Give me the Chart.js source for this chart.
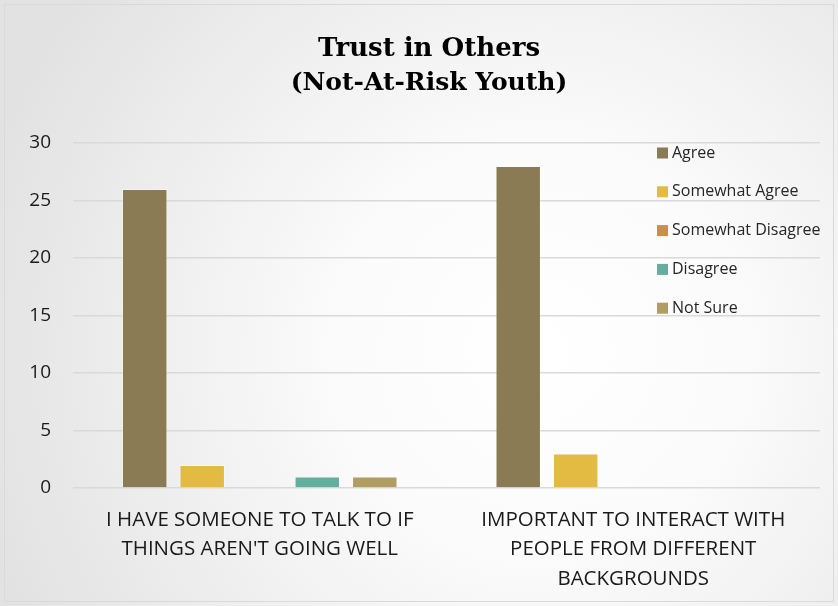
<!DOCTYPE html>
<html>
<head>
<meta charset="utf-8">
<title>Trust in Others</title>
<script src="https://cdn.jsdelivr.net/npm/chart.js@4.4.0/dist/chart.umd.min.js"></script>
<style>
  html, body { margin: 0; padding: 0; background: #fff; }
  #wrap { width: 838px; height: 606px; }
</style>
</head>
<body>
<div id="wrap"><canvas id="trustChart" width="838" height="606"></canvas></div>
<script>
const titleLines = ['Trust in Others', '(Not-At-Risk Youth)'];
const categories = [
    ['I HAVE SOMEONE TO TALK TO IF', "THINGS AREN'T GOING WELL"],
    ['IMPORTANT TO INTERACT WITH', 'PEOPLE FROM DIFFERENT', 'BACKGROUNDS']
];
const seriesNames = ['Agree', 'Somewhat Agree', 'Somewhat Disagree', 'Disagree', 'Not Sure'];
const agree = [26, 28];
const somewhatAgree = [2, 3];
const somewhatDisagree = [0, 0];
const disagree = [1, 0];
const notSure = [1, 0];
const yMax = 30;
const yStep = 5;

const seriesValues = [agree, somewhatAgree, somewhatDisagree, disagree, notSure];
const seriesColors = ['#8b7b55', '#e3ba42', '#c98f4c', '#63ae9e', '#af9d63'];

// gradient backdrop, thin frame and the two-line heading
const backdrop = {
    id: 'backdrop',
    beforeDraw(chart) {
        const ctx = chart.ctx;
        const w = chart.width, h = chart.height;
        ctx.save();
        const g = ctx.createRadialGradient(540, 350, 0, 540, 350, 580);
        g.addColorStop(0, '#ffffff');
        g.addColorStop(0.35, '#fbfbfb');
        g.addColorStop(1, '#e2e2e2');
        ctx.fillStyle = g;
        ctx.fillRect(0, 0, w, h);
        ctx.strokeStyle = '#d9d9d9';
        ctx.lineWidth = 1;
        ctx.strokeRect(4.5, 4.5, w - 9, h - 9);

        ctx.fillStyle = '#000';
        ctx.textAlign = 'center';
        ctx.textBaseline = 'alphabetic';
        ctx.font = 'bold 26px "DejaVu Serif", serif';
        ctx.fillText(titleLines[0], 429, 56);
        ctx.font = 'bold 25px "DejaVu Serif", serif';
        ctx.fillText(titleLines[1], 429, 90);
        ctx.restore();
    }
};

// legend drawn inside the plot area, right side
const innerLegend = {
    id: 'innerLegend',
    afterDatasetsDraw(chart) {
        const ctx = chart.ctx;
        const x = 657, y0 = 153, gap = 38.8, box = 11;
        ctx.save();
        ctx.font = '16px "Open Sans", sans-serif';
        ctx.textBaseline = 'middle';
        ctx.textAlign = 'left';
        chart.data.datasets.forEach((ds, i) => {
            const y = y0 + i * gap;
            ctx.fillStyle = ds.backgroundColor;
            ctx.fillRect(x, y - box / 2, box, box);
            ctx.fillStyle = '#262626';
            ctx.fillText(ds.label, x + box + 4, y);
        });
        ctx.restore();
    }
};

const datasets = seriesNames.map((name, i) => ({
    label: name,
    data: seriesValues[i],
    backgroundColor: seriesColors[i],
    borderColor: 'rgba(255,255,255,0.35)',
    borderWidth: 1,
    categoryPercentage: 0.77,
    barPercentage: 0.79
}));

new Chart(document.getElementById('trustChart'), {
    type: 'bar',
    data: { labels: categories, datasets: datasets },
    options: {
        responsive: false,
        animation: false,
        layout: { padding: { left: 0, right: 18, top: 143, bottom: -5 } },
        plugins: {
            legend: { display: false },
            tooltip: { enabled: false },
            title: { display: false }
        },
        scales: {
            x: {
                grid: { display: false, drawTicks: false },
                border: { display: false },
                ticks: {
                    color: '#1a1a1a',
                    font: { family: '"Open Sans", sans-serif', size: 20.5, lineHeight: 1.43 },
                    padding: 17.5,
                    maxRotation: 0,
                    autoSkip: false
                }
            },
            y: {
                min: 0,
                max: yMax,
                afterFit(scale) { scale.width = 73; },
                grid: { color: '#d9d9d9', lineWidth: 1.5, drawTicks: false },
                border: { display: false },
                ticks: {
                    stepSize: yStep,
                    color: '#1a1a1a',
                    font: { family: '"Open Sans", sans-serif', size: 19 },
                    padding: 22
                }
            }
        }
    },
    plugins: [backdrop, innerLegend]
});
</script>
</body>
</html>
